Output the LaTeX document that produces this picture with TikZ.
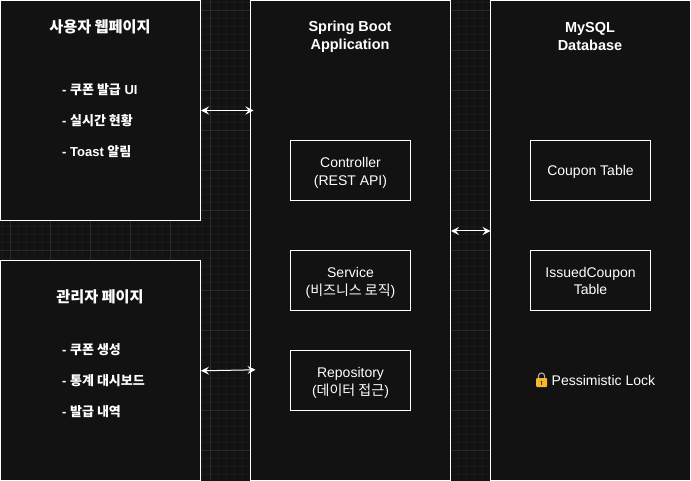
\documentclass[tikz,border=0pt]{standalone}
\usepackage{fontspec}
\setmainfont{Liberation Sans}
\newfontfamily\kr{Noto Sans CJK KR}
\usetikzlibrary{arrows.meta,calc}
\definecolor{bgc}{HTML}{121212}
\definecolor{gridminor}{HTML}{191919}
\definecolor{gridmajor}{HTML}{2A2A2A}
\definecolor{lockbody}{HTML}{F5B82E}
\definecolor{lockshackle}{HTML}{A8A8A8}
\tikzset{
  x=1pt,y=-1pt,
  box/.style={draw=white,line width=1pt,fill=bgc,inner sep=0pt,outer sep=0pt,anchor=north west},
  boxtext/.style={text=white,align=center,inner sep=0pt,yshift=-2.3pt,font=\fontsize{14}{18}\selectfont},
  title/.style={text=white,align=center,inner sep=0pt,font=\fontsize{14.5}{18}\selectfont\bfseries},
  item/.style={text=white,anchor=west,inner sep=0pt,font=\fontsize{13}{14}\selectfont\bfseries},
  plain/.style={text=white,anchor=west,inner sep=0pt,font=\fontsize{14}{14}\selectfont},
  link/.style={draw=white,line width=1pt,{Stealth[length=8pt,width=8pt,inset=3pt]}-{Stealth[length=8pt,width=8pt,inset=3pt]}}
}
\begin{document}
\begin{tikzpicture}
\useasboundingbox (0,0) rectangle (691,481);
\fill[bgc] (0,0) rectangle (691,481);
% grid
\foreach \k in {0,...,86}{\draw[gridminor,line width=1pt] ({2.5+8*\k},0) -- ({2.5+8*\k},481);}
\foreach \k in {0,...,60}{\draw[gridminor,line width=1pt] (0,{2.5+8*\k}) -- (691,{2.5+8*\k});}
\foreach \k in {0,...,17}{\draw[gridmajor,line width=1pt] ({10.5+40*\k},0) -- ({10.5+40*\k},481);}
\foreach \k in {0,...,11}{\draw[gridmajor,line width=1pt] (0,{10.5+40*\k}) -- (691,{10.5+40*\k});}
% containers
\node[box,minimum width=200pt,minimum height=220pt] (user) at (0.5,0.5) {};
\node[box,minimum width=200pt,minimum height=220pt] (admin) at (0.5,260.5) {};
\node[box,minimum width=200pt,minimum height=480pt] (app) at (250.5,0.5) {};
\node[box,minimum width=200pt,minimum height=480pt] (db) at (490.5,0.5) {};
% titles
\node[title] (usertitle) at (100,26.8) {\fontsize{15.2}{18}\selectfont\kr 사용자 웹페이지};
\node[title] (admintitle) at (100,296.8) {\fontsize{15.2}{18}\selectfont\kr 관리자 페이지};
\node[title] (apptitle) at (350,37) {Spring Boot\\Application};
\node[title] (dbtitle) at (590,37) {MySQL\\Database};
% lists
\node[item] (u1) at (62,89.8) {- {\kr 쿠폰 발급} UI};
\node[item] (u2) at (62,120.8) {- {\kr 실시간 현황}};
\node[item] (u3) at (62,151.8) {- Toast {\kr 알림}};
\node[item] (a1) at (62,349.8) {- {\kr 쿠폰 생성}};
\node[item] (a2) at (62,380.8) {- {\kr 통계 대시보드}};
\node[item] (a3) at (62,411.8) {- {\kr 발급 내역}};
% inner boxes
\node[box,minimum width=120pt,minimum height=60pt] (controller) at (290.5,140.5) {};
\node[box,minimum width=120pt,minimum height=60pt] (service) at (290.5,250.5) {};
\node[box,minimum width=120pt,minimum height=60pt] (repo) at (290.5,350.5) {};
\node[box,minimum width=120pt,minimum height=60pt] (coupon) at (530.5,140.5) {};
\node[box,minimum width=120pt,minimum height=60pt] (issued) at (530.5,250.5) {};
\node[boxtext] (controllertext) at (controller.center) {Controller\\(REST API)};
\node[boxtext] (servicetext) at (service.center) {Service\\({\kr 비즈니스 로직})};
\node[boxtext] (repotext) at (repo.center) {Repository\\({\kr 데이터 접근})};
\node[boxtext,yshift=1.3pt] (coupontext) at (coupon.center) {Coupon Table};
\node[boxtext,yshift=1.4pt,font=\fontsize{14}{17}\selectfont] (issuedtext) at (issued.center) {IssuedCoupon\\Table};
% lock
\draw[lockshackle,line width=1.2pt] (538.4,379) -- (538.4,376) arc[start angle=180,end angle=0,x radius=3.1,y radius=-3] -- (544.6,379);
\fill[lockbody,rounded corners=1pt] (536,378) rectangle (547,387);
\fill[black!75] (541.5,381.6) circle (0.9pt);
\draw[black!75,line width=0.8pt] (541.5,381.6) -- (541.5,385);
\node[plain] (locktext) at (551.5,380) {Pessimistic Lock};
% connectors
\coordinate (ua) at ($(user.east)+(0.5,0)$);
\coordinate (ub) at ($(user.east -| app.west)+(3,0)$);
\coordinate (aa) at ($(admin.east)+(0.5,0.3)$);
\coordinate (ab) at ($(admin.east -| app.west)+(5,-0.7)$);
\coordinate (da) at ($(app.east)+(0.5,-9.5)$);
\coordinate (db2) at ($(app.east)+(40,-9.5)$);
\draw[link] (ua) -- (ub);
\draw[link] (aa) -- (ab);
\draw[link] (da) -- (db2);
\end{tikzpicture}
\end{document}
